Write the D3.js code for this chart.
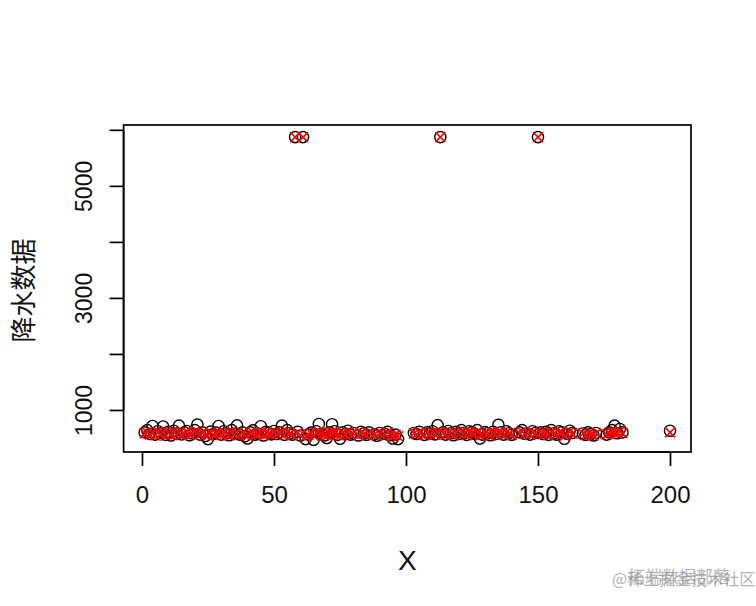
<!DOCTYPE html>
<html>
<head>
<meta charset="utf-8">
<script src="https://cdn.jsdelivr.net/npm/d3@7"></script>
<style>
  html, body { margin: 0; padding: 0; background: #fff; }
  svg { display: block; }
</style>
</head>
<body>
<svg id="chart" width="756" height="606"></svg>
<script>
// ---- data ----
const pointX = [
  1,2,3,4,5,6,7,8,9,10,
  11,12,13,14,15,16,17,18,19,20,
  21,22,23,24,25,26,27,28,29,30,
  31,32,33,34,35,36,37,38,39,40,
  41,42,43,44,45,46,47,48,49,50,
  51,52,53,54,55,56,57,59,60,62,
  63,64,65,66,67,68,69,70,71,72,
  73,74,75,76,77,78,79,80,82,83,
  84,85,86,88,89,90,92,93,94,95,
  96,97,103,104,105,107,108,109,110,111,
  112,114,115,116,117,118,119,120,121,122,
  123,124,125,126,127,128,129,130,131,132,
  133,134,135,136,137,138,139,140,143,144,
  145,147,148,149,151,152,153,154,155,156,
  157,158,159,160,161,162,163,167,168,169,
  170,171,172,176,177,178,179,180,181,182,
  200,58,61,113,150
];
// black open circles: observed precipitation
const circleY = [
  600,640,575,715,560,620,590,705,555,610,
  545,630,580,720,565,600,625,550,585,640,
  740,560,600,535,480,615,570,595,715,560,
  620,585,550,640,575,725,560,600,530,490,
  600,635,560,580,710,545,610,590,565,625,
  570,600,720,555,640,585,560,610,545,480,
  560,595,466,620,750,575,545,500,600,745,
  620,555,485,600,570,630,560,590,545,610,
  580,555,600,565,540,590,575,610,550,490,
  560,480,590,570,610,555,600,580,620,565,
  730,600,560,625,585,550,610,570,640,590,
  555,620,600,575,640,490,560,605,585,550,
  610,570,735,600,560,620,585,555,600,640,
  575,560,620,590,600,570,610,555,640,585,
  560,620,600,485,575,630,590,580,555,600,
  570,545,590,560,600,640,720,585,660,600,
  630,5870,5870,5870,5870
];
// red crosses
const crossY = [
  585,600,560,590,545,605,575,600,540,590,
  560,610,570,600,550,585,610,555,575,620,
  600,565,590,545,540,600,560,580,595,555,
  605,575,545,615,565,600,550,590,545,535,
  590,600,555,570,600,550,595,580,560,605,
  565,590,600,550,610,575,555,595,550,530,
  555,585,540,600,610,565,545,540,590,600,
  600,550,535,590,560,605,555,580,545,595,
  570,550,590,560,540,580,565,600,545,530,
  555,530,580,565,600,550,590,570,605,560,
  600,590,555,605,575,550,595,565,615,580,
  550,600,590,570,610,535,555,595,575,545,
  600,565,600,590,555,600,580,550,590,610,
  570,555,600,585,590,565,600,550,615,575,
  555,600,590,535,570,610,580,575,550,590,
  565,545,580,560,590,605,600,580,620,590,
  600,5870,5870,5870,5870
];
const xTicks = [0, 50, 100, 150, 200];
const yTicks = [1000, 2000, 3000, 4000, 5000, 6000];
const yTickLabels = ["1000", "", "3000", "", "5000", ""];
const xTitle = "X";
const yTitle = "降水数据";

// ---- layout ----
const svg = d3.select("#chart");
const plot = { left: 123.6, top: 125, width: 567.4, height: 327 };
const font = "'Liberation Sans', Arial, sans-serif";

// R-style 4% padded ranges
const xExt = d3.extent(pointX);
const xPad = (xExt[1] - xExt[0]) * 0.04;
const yExt = d3.extent(circleY.concat(crossY));
const yPad = (yExt[1] - yExt[0]) * 0.04;

const x = d3.scaleLinear().domain([xExt[0] - xPad, xExt[1] + xPad])
  .range([plot.left, plot.left + plot.width]);
const y = d3.scaleLinear().domain([yExt[0] - yPad, yExt[1] + yPad])
  .range([plot.top + plot.height, plot.top]);

const g = svg.append("g");

// points: circles
g.append("g").selectAll("circle").data(pointX).join("circle")
  .attr("cx", (d) => x(d))
  .attr("cy", (d, i) => y(circleY[i]))
  .attr("r", 5.6)
  .attr("fill", "none")
  .attr("stroke", "#000")
  .attr("stroke-width", 1.4);

// points: red crosses
const s = 5;
g.append("g").selectAll("path").data(pointX).join("path")
  .attr("d", (d, i) => {
    const cx = x(d), cy = y(crossY[i]);
    return `M${cx - s},${cy - s}L${cx + s},${cy + s}M${cx - s},${cy + s}L${cx + s},${cy - s}`;
  })
  .attr("fill", "none")
  .attr("stroke", "#ff0000")
  .attr("stroke-width", 1.5);

// box
g.append("rect")
  .attr("x", plot.left).attr("y", plot.top)
  .attr("width", plot.width).attr("height", plot.height)
  .attr("fill", "none").attr("stroke", "#000").attr("stroke-width", 1.7);

// x axis
const xAxis = d3.axisBottom(x).tickValues(xTicks).tickSize(14).tickPadding(20)
  .tickFormat(d3.format("d"));
const gx = g.append("g").attr("transform", `translate(0,${plot.top + plot.height})`).call(xAxis);
gx.select(".domain").attr("d", `M${x(xTicks[0])},0H${x(xTicks[xTicks.length - 1])}`)
  .attr("stroke-width", 1.7);
gx.selectAll(".tick line").attr("stroke-width", 1.7);
gx.selectAll(".tick text").attr("font-family", font).attr("font-size", 24).attr("fill", "#111");

// y axis
const yAxis = d3.axisLeft(y).tickValues(yTicks).tickSize(14).tickFormat((d, i) => yTickLabels[i]);
const gy = g.append("g").attr("transform", `translate(${plot.left},0)`).call(yAxis);
gy.select(".domain").attr("d", `M0,${y(yTicks[0])}V${y(yTicks[yTicks.length - 1])}`)
  .attr("stroke-width", 1.7);
gy.selectAll(".tick line").attr("stroke-width", 1.7);
gy.selectAll(".tick text")
  .attr("font-family", font).attr("font-size", 23).attr("fill", "#111")
  .attr("x", 0).attr("dy", 0)
  .attr("text-anchor", "middle")
  .attr("transform", "translate(-40,0) rotate(-90)")
  .attr("dominant-baseline", "central");

// axis titles
svg.append("text")
  .attr("x", plot.left + plot.width / 2).attr("y", 570)
  .attr("text-anchor", "middle")
  .attr("font-family", font).attr("font-size", 28).attr("fill", "#111")
  .text(xTitle);

svg.append("text")
  .attr("transform", `translate(21,${plot.top + plot.height / 2 + 2}) rotate(-90)`)
  .attr("text-anchor", "middle").attr("dominant-baseline", "central")
  .attr("font-family", "'Noto Sans CJK SC', sans-serif").attr("font-size", 26)
  .attr("fill", "#111")
  .text(yTitle);

// watermark
svg.append("text").attr("x", 612).attr("y", 585)
  .attr("font-family", "'Noto Sans CJK SC', sans-serif").attr("font-size", 16)
  .attr("fill", "#9a9a9a").attr("opacity", 0.75).text("@稀土掘金技术社区");
svg.append("text").attr("x", 628).attr("y", 583)
  .attr("font-family", "'Noto Sans CJK SC', sans-serif").attr("font-size", 17)
  .attr("fill", "#8a8a8a").attr("opacity", 0.6).text("拓端数据部落");
</script>
</body>
</html>
